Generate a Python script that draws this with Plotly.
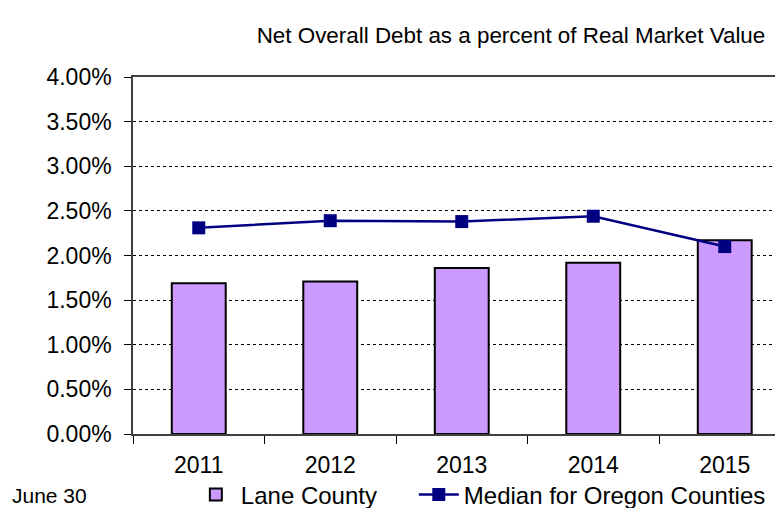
import plotly.graph_objects as go

# Chart data
years = ['2011', '2012', '2013', '2014', '2015']
lane_county = [0.0169, 0.0171, 0.0186, 0.0192, 0.0217]
oregon_median = [0.0231, 0.0239, 0.0238, 0.0244, 0.0210]
y_ticks = [0, 0.005, 0.01, 0.015, 0.02, 0.025, 0.03, 0.035, 0.04]

arial = 'Liberation Sans, Arial, sans-serif'

fig = go.Figure()

fig.add_trace(go.Bar(
    x=years, y=lane_county, name='Lane County',
    marker=dict(color='#CC99FF', line=dict(color='black', width=2)),
    width=0.41, legend='legend',
))

fig.add_trace(go.Scatter(
    x=years, y=oregon_median, name='Median for Oregon Counties',
    mode='lines+markers',
    line=dict(color='#000080', width=2.5),
    marker=dict(symbol='square', size=13, color='#000080'),
    legend='legend2',
))

legend_style = dict(orientation='h', xanchor='left', yref='container', y=0.026, yanchor='middle',
                    font=dict(family=arial, size=24, color='black'),
                    bgcolor='rgba(0,0,0,0)', itemwidth=40)

# page body has an 8px margin, so the figure is 8px smaller on each side
fig.update_layout(
    width=775, height=500,
    margin=dict(l=125, r=0, t=69, b=74),
    paper_bgcolor='white', plot_bgcolor='white',
    title=dict(text='Net Overall Debt as a percent of Real Market Value',
               x=0.649, xanchor='center', y=0.945, yanchor='middle',
               font=dict(family=arial, size=22.4, color='black')),
    showlegend=True,
    legend=dict(x=0.089, **legend_style),
    legend2=dict(x=0.432, **legend_style),
    annotations=[dict(text='June 30', xref='paper', yref='paper', x=-0.189, y=-0.171,
                      xanchor='left', yanchor='middle', showarrow=False,
                      font=dict(family=arial, size=21, color='black'))],
)

fig.update_xaxes(
    type='category', range=[-0.5, 4.443], automargin=False,
    showline=True, linecolor='#404040', linewidth=1.5, mirror=True,
    ticks='outside', tickson='boundaries', ticklen=8, tickcolor='black',
    tickfont=dict(family=arial, size=23, color='black'), ticklabelstandoff=10,
    showgrid=False,
)

fig.update_yaxes(
    range=[0, 0.04], tickvals=y_ticks, tickformat='.2%', automargin=False,
    showline=True, linecolor='#404040', linewidth=1.5,
    ticks='outside', ticklen=7, tickcolor='black',
    tickfont=dict(family=arial, size=23, color='black'), ticklabelstandoff=8,
    showgrid=True, gridcolor='black', gridwidth=1, griddash='dot',
    zeroline=False,
)

fig.write_html('out.html')
